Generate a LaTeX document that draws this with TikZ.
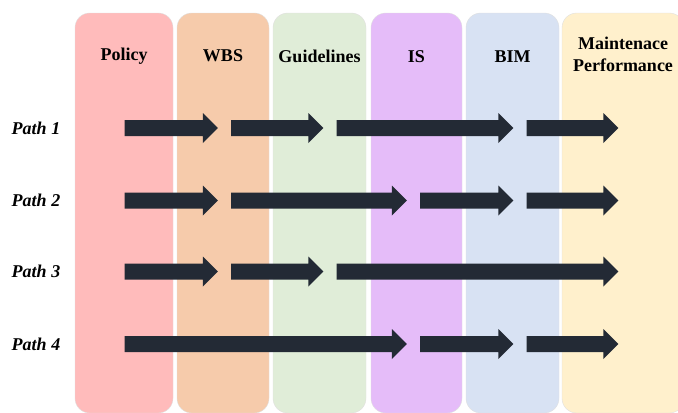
\documentclass[tikz,border=0pt]{standalone}
\usepackage{fontspec}
\setmainfont{Liberation Serif}
\usetikzlibrary{calc,positioning}
\definecolor{policyfill}{RGB}{255,187,187}
\definecolor{wbsfill}{RGB}{246,203,171}
\definecolor{guidefill}{RGB}{224,237,216}
\definecolor{isfill}{RGB}{229,188,249}
\definecolor{bimfill}{RGB}{216,226,243}
\definecolor{maintfill}{RGB}{255,240,204}
\definecolor{arrowdark}{RGB}{35,42,53}
\tikzset{
  stagecol/.style={rounded corners=11pt, minimum height=300pt, inner sep=0pt, draw=black!12, line width=0.3pt},
  stagehead/.style={font=\bfseries\fontsize{13.5}{16.5}\selectfont, align=center, inner sep=1pt},
  pathlabel/.style={font=\bfseries\itshape\fontsize{13.5}{16.5}\selectfont, inner sep=1pt},
  % block arrow: shaft 16px, head 30px wide and 15px long, 6.5px gap at both ends
  blockarrow/.style={fill=arrowdark, to path={
    let \p1=(\tikztostart), \p2=(\tikztotarget) in
    (\x1+4.9pt,\y1-6pt) -- (\x2-16.15pt,\y1-6pt) -- (\x2-16.15pt,\y1-11.25pt) -- (\x2-4.9pt,\y1)
    -- (\x2-16.15pt,\y1+11.25pt) -- (\x2-16.15pt,\y1+6pt) -- (\x1+4.9pt,\y1+6pt) -- cycle}}
}

\begin{document}
\begin{tikzpicture}[x=0.75pt,y=-0.75pt]
  % frame in px: 678 x 412, y grows downwards
  \useasboundingbox (0,0) rectangle (678,412);
  \clip (0,0) rectangle (678,412);
  % stage columns
  \node[stagecol, fill=policyfill, minimum width=73.5pt] (policy) at (124,213) {};
  \node[stagecol, fill=wbsfill, minimum width=69pt] (wbs) at (223,213) {};
  \node[stagecol, fill=guidefill, minimum width=69.75pt] (guide) at (319.5,213) {};
  \node[stagecol, fill=isfill, minimum width=68.25pt] (is) at (416.5,213) {};
  \node[stagecol, fill=bimfill, minimum width=69.75pt] (bim) at (512.5,213) {};
  \node[stagecol, fill=maintfill, minimum width=91.5pt] (maint) at (623,213) {};
  \node[stagehead] (hpolicy) at ([yshift=-32.5pt]policy.north) {Policy};
  \node[stagehead] (hwbs) at ([yshift=-32.5pt]wbs.north) {WBS};
  \node[stagehead] (hguide) at ([yshift=-32.5pt]guide.north) {Guidelines};
  \node[stagehead] (his) at ([yshift=-32.5pt]is.north) {IS};
  \node[stagehead] (hbim) at ([yshift=-32.5pt]bim.north) {BIM};
  \node[stagehead] (hmaint) at ([yshift=-31.5pt]maint.north) {Maintenace\\Performance};
  % stop points between stages
  \coordinate (s0) at (118,0);
  \coordinate (s1) at (224.5,0);
  \coordinate (s2) at (330,0);
  \coordinate (s3) at (413.5,0);
  \coordinate (s4) at (520,0);
  \coordinate (s5) at (625,0);
  % paths
  \foreach \p/\y in {1/128,2/200.5,3/271.5,4/344}
    \node[pathlabel] (path\p) at (36,\y) {Path \p};
  \foreach \p/\hops in {1/{0/1,1/2,2/4,4/5},2/{0/1,1/3,3/4,4/5},3/{0/1,1/2,2/5},4/{0/3,3/4,4/5}}
    \foreach \a/\b in \hops {
      \coordinate (hopa) at (s\a |- path\p);
      \coordinate (hopb) at (s\b |- path\p);
      \path[blockarrow] (hopa) to (hopb);
    }
\end{tikzpicture}
\end{document}
